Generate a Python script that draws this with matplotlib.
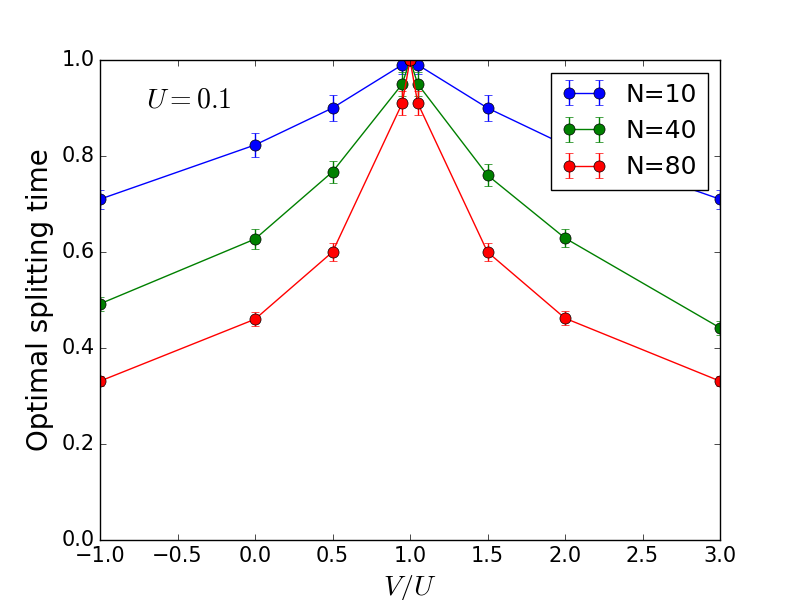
import numpy as np
import matplotlib
matplotlib.use("Agg")
import matplotlib.pyplot as plt

plt.style.use('classic')

# V/U 取值
vu = [-1.0, 0.0, 0.5, 0.95, 1.0, 1.05, 1.5, 2.0, 3.0]

t_n10 = [0.710, 0.823, 0.900, 0.990, 1.0, 0.990, 0.900, 0.823, 0.710]
t_n40 = [0.492, 0.627, 0.767, 0.950, 1.0, 0.950, 0.760, 0.629, 0.442]
t_n80 = [0.331, 0.460, 0.600, 0.910, 1.0, 0.910, 0.600, 0.462, 0.331]

err_n10 = [0.02, 0.025, 0.027, 0.02, 0.0, 0.02, 0.027, 0.025, 0.02]
err_n40 = [0.015, 0.02, 0.023, 0.025, 0.0, 0.025, 0.023, 0.018, 0.015]
err_n80 = [0.01, 0.015, 0.018, 0.025, 0.0, 0.025, 0.018, 0.015, 0.01]

labels = ['N=10', 'N=40', 'N=80']
colors = ['b', 'g', 'r']

fig, ax = plt.subplots(figsize=(8, 6), dpi=100)
for t, e, lab, c in zip([t_n10, t_n40, t_n80], [err_n10, err_n40, err_n80], labels, colors):
    ax.errorbar(vu, t, yerr=e, fmt='o-', color=c, ecolor=c, markersize=8,
                capsize=3, label=lab)

ax.set_xlim(-1, 3)
ax.set_ylim(0, 1)
ax.tick_params(labelsize=15)
ax.set_xlabel(r'$V/U$', fontsize=20)
ax.set_ylabel('Optimal splitting time', fontsize=20)
ax.text(-0.7, 0.9, r'$U=0.1$', fontsize=20)
ax.legend(loc='upper right', fontsize=18, numpoints=2, handlelength=1.8)

plt.savefig('out.png', dpi=100)
